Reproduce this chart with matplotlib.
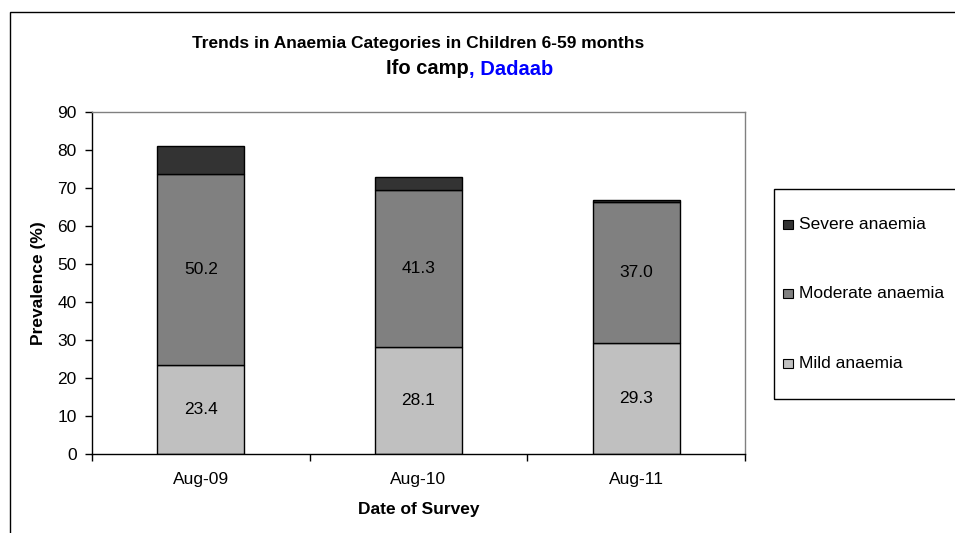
import matplotlib
matplotlib.use("Agg")
import matplotlib.pyplot as plt
from matplotlib.patches import Rectangle
import numpy as np

plt.rcParams['font.family'] = ['Liberation Sans', 'DejaVu Sans']

# Survey rounds and anaemia prevalence (%) by category
surveys = ["Aug-09", "Aug-10", "Aug-11"]
mild = [23.4, 28.1, 29.3]
moderate = [50.2, 41.3, 37.0]
severe = [7.4, 3.5, 0.5]

series_names = ["Severe anaemia", "Moderate anaemia", "Mild anaemia"]
series_colors = ["#333333", "#808080", "#c0c0c0"]

W, H = 955, 533
FS = 12.5
fig = plt.figure(figsize=(W / 100, H / 100), dpi=100)
ax = fig.add_axes([92 / W, 1 - 454 / H, (745 - 92) / W, (454 - 112) / H])

x = np.arange(len(surveys))
bw = 0.40
mild_arr = np.array(mild)
mod_arr = np.array(moderate)
sev_arr = np.array(severe)

ax.bar(x, mild_arr, bw, color=series_colors[2], edgecolor="black", linewidth=1, zorder=2)
ax.bar(x, mod_arr, bw, bottom=mild_arr, color=series_colors[1], edgecolor="black",
       linewidth=1, zorder=2)
ax.bar(x, sev_arr, bw, bottom=mild_arr + mod_arr, color=series_colors[0],
       edgecolor="black", linewidth=1, zorder=2)

# value labels inside the mild and moderate segments
for i in range(len(surveys)):
    ax.text(x[i], mild_arr[i] / 2, f"{mild[i]:.1f}", ha="center", va="center", fontsize=FS)
    ax.text(x[i], mild_arr[i] + mod_arr[i] / 2, f"{moderate[i]:.1f}", ha="center",
            va="center", fontsize=FS)

ax.set_xlim(-0.5, len(surveys) - 0.5)
ax.set_ylim(0, 90)
ax.set_yticks(np.arange(0, 91, 10))
ax.tick_params(axis="y", labelsize=FS, direction="out", length=5, width=1, pad=6)
ax.set_xticks(x)
ax.set_xticklabels(surveys, fontsize=FS)
ax.tick_params(axis="x", which="major", length=0, pad=13)
ax.set_xticks(np.arange(-0.5, len(surveys), 1.0), minor=True)
ax.tick_params(axis="x", which="minor", direction="out", length=5, width=1)

for side in ("top", "right"):
    ax.spines[side].set_color("#808080")
    ax.spines[side].set_linewidth(1)
for side in ("left", "bottom"):
    ax.spines[side].set_color("black")
    ax.spines[side].set_linewidth(1)

ax.set_ylabel("Prevalence (%)", fontsize=FS, fontweight="bold", labelpad=8)
ax.set_xlabel("Date of Survey", fontsize=FS, fontweight="bold", labelpad=11)

# Title: two lines, camp location highlighted in blue
fig.text(418 / W, 1 - 43 / H, "Trends in Anaemia Categories in Children 6-59 months",
         ha="center", va="center", fontsize=12.5, fontweight="bold")
fig.text(469 / W, 1 - 69 / H, "Ifo camp", ha="right", va="center", fontsize=14.5,
         fontweight="bold")
fig.text(469 / W, 1 - 69 / H, ", Dadaab", ha="left", va="center", fontsize=14.5,
         fontweight="bold", color="#0000ff")

# Outer chart border
fig.patches.append(Rectangle((10 / W, -0.1), 1.2, 1 - 12 / H + 0.1, transform=fig.transFigure,
                             fill=False, edgecolor="black", linewidth=1))

# Legend box with one swatch per series
fig.patches.append(Rectangle((774 / W, 1 - 399 / H), 0.3, (399 - 189) / H,
                             transform=fig.transFigure, fill=False, edgecolor="black",
                             linewidth=1))
legend_y = [224, 293, 363]
for name, color, yy in zip(series_names, series_colors, legend_y):
    fig.patches.append(Rectangle((783 / W, 1 - (yy + 5) / H), 10 / W, 9 / H,
                                 transform=fig.transFigure, facecolor=color,
                                 edgecolor="black", linewidth=0.8))
    fig.text(799 / W, 1 - yy / H, name, ha="left", va="center", fontsize=FS)

fig.savefig("out.png", dpi=100)
